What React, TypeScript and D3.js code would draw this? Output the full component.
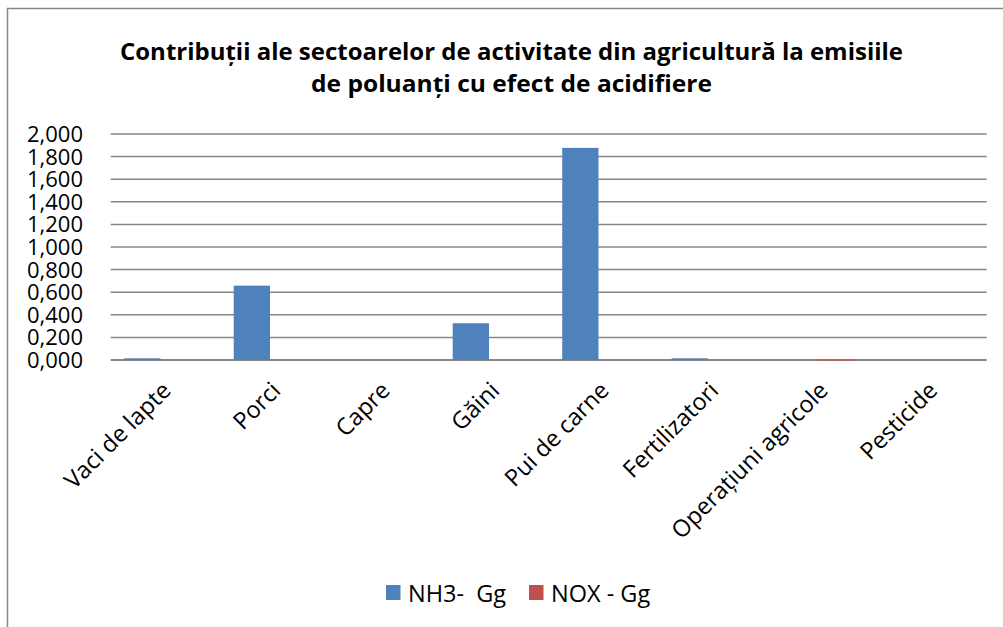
import React from "react";
import * as d3 from "d3";

const categories = [
  "Vaci de lapte",
  "Porci",
  "Capre",
  "Găini",
  "Pui de carne",
  "Fertilizatori",
  "Operațiuni agricole",
  "Pesticide",
];
const nh3Values = [0.015, 0.658, 0, 0.325, 1.877, 0.015, 0, 0];
const noxValues = [0, 0, 0, 0, 0, 0, 0.004, 0];
const seriesNames = ["NH3-  Gg", "NOX - Gg"];
const seriesColors = ["#4F81BD", "#C0504D"];
const yTicks = [0, 0.2, 0.4, 0.6, 0.8, 1.0, 1.2, 1.4, 1.6, 1.8, 2.0];
const titleLines = [
  "Contribuții ale sectoarelor de activitate din agricultură la emisiile",
  "de poluanți cu efect de acidifiere",
];

const W = 1003;
const H = 627;
const plotLeft = 110.7;
const plotRight = 986.7;
const plotTop = 134;
const plotBottom = 360;
const FONT = "'Open Sans', sans-serif";

export default function App() {
  const x0 = d3.scaleBand<string>().domain(categories).range([plotLeft, plotRight]).padding(0);
  const bw = x0.bandwidth();
  const x1 = d3
    .scaleBand<string>()
    .domain(["NH3", "NOX"])
    .range([bw * 0.1233, bw * 0.1233 + bw * 0.663])
    .padding(0);
  const y = d3.scaleLinear().domain([0, 2]).range([plotBottom, plotTop]);
  const fmt = (v: number) => d3.format(".3f")(v).replace(".", ",");
  const series = [
    { key: "NH3", values: nh3Values, color: seriesColors[0] },
    { key: "NOX", values: noxValues, color: seriesColors[1] },
  ];

  return (
    <svg
      width={W}
      height={H}
      style={{ position: "absolute", left: 0, top: 0, background: "#fff" }}
      fontFamily={FONT}
    >
      <rect x={0} y={0} width={W} height={H} fill="#fff" />
      <rect x={7.5} y={8.5} width={W + 10} height={H + 10} fill="none" stroke="#868686" strokeWidth={1.5} />

      <text x={511.5} y={60} textAnchor="middle" fontWeight="bold" fontSize={23} fill="#000"
        textLength={783} lengthAdjust="spacingAndGlyphs">
        {titleLines[0]}
      </text>
      <text x={511.5} y={92} textAnchor="middle" fontWeight="bold" fontSize={23} fill="#000"
        textLength={401} lengthAdjust="spacingAndGlyphs">
        {titleLines[1]}
      </text>

      {yTicks.map((t) => (
        <g key={t}>
          <line x1={plotLeft} x2={plotRight} y1={y(t)} y2={y(t)} stroke="#868686" strokeWidth={t === 0 ? 2 : 1.5} />
          <text x={83} y={y(t)} dy="0.36em" textAnchor="end" fontSize={22} fill="#000">
            {fmt(t)}
          </text>
        </g>
      ))}

      {series.map((s) =>
        categories.map((c, i) => {
          const v = s.values[i];
          if (v <= 0) return null;
          const bx = (x0(c) as number) + (x1(s.key) as number);
          const top = y(v);
          return (
            <rect key={s.key + c} x={bx} y={top} width={x1.bandwidth()} height={plotBottom - 1 - top > 0 ? plotBottom - top : 1}
              fill={s.color} />
          );
        })
      )}

      {categories.map((c) => {
        const cx = (x0(c) as number) + bw / 2 + 7;
        const cy = 392;
        return (
          <text key={c} x={cx} y={cy} textAnchor="end" fontSize={23.5} fill="#000"
            transform={`rotate(-45, ${cx}, ${cy})`}>
            {c}
          </text>
        );
      })}

      {seriesNames.map((n, i) => {
        const lx = i === 0 ? 386 : 529;
        return (
          <g key={n}>
            <rect x={lx} y={585} width={14.5} height={15} fill={seriesColors[i]} />
            <text x={lx + 22} y={602} fontSize={23.5} fill="#000" style={{ whiteSpace: "pre" }}>
              {n}
            </text>
          </g>
        );
      })}
    </svg>
  );
}
